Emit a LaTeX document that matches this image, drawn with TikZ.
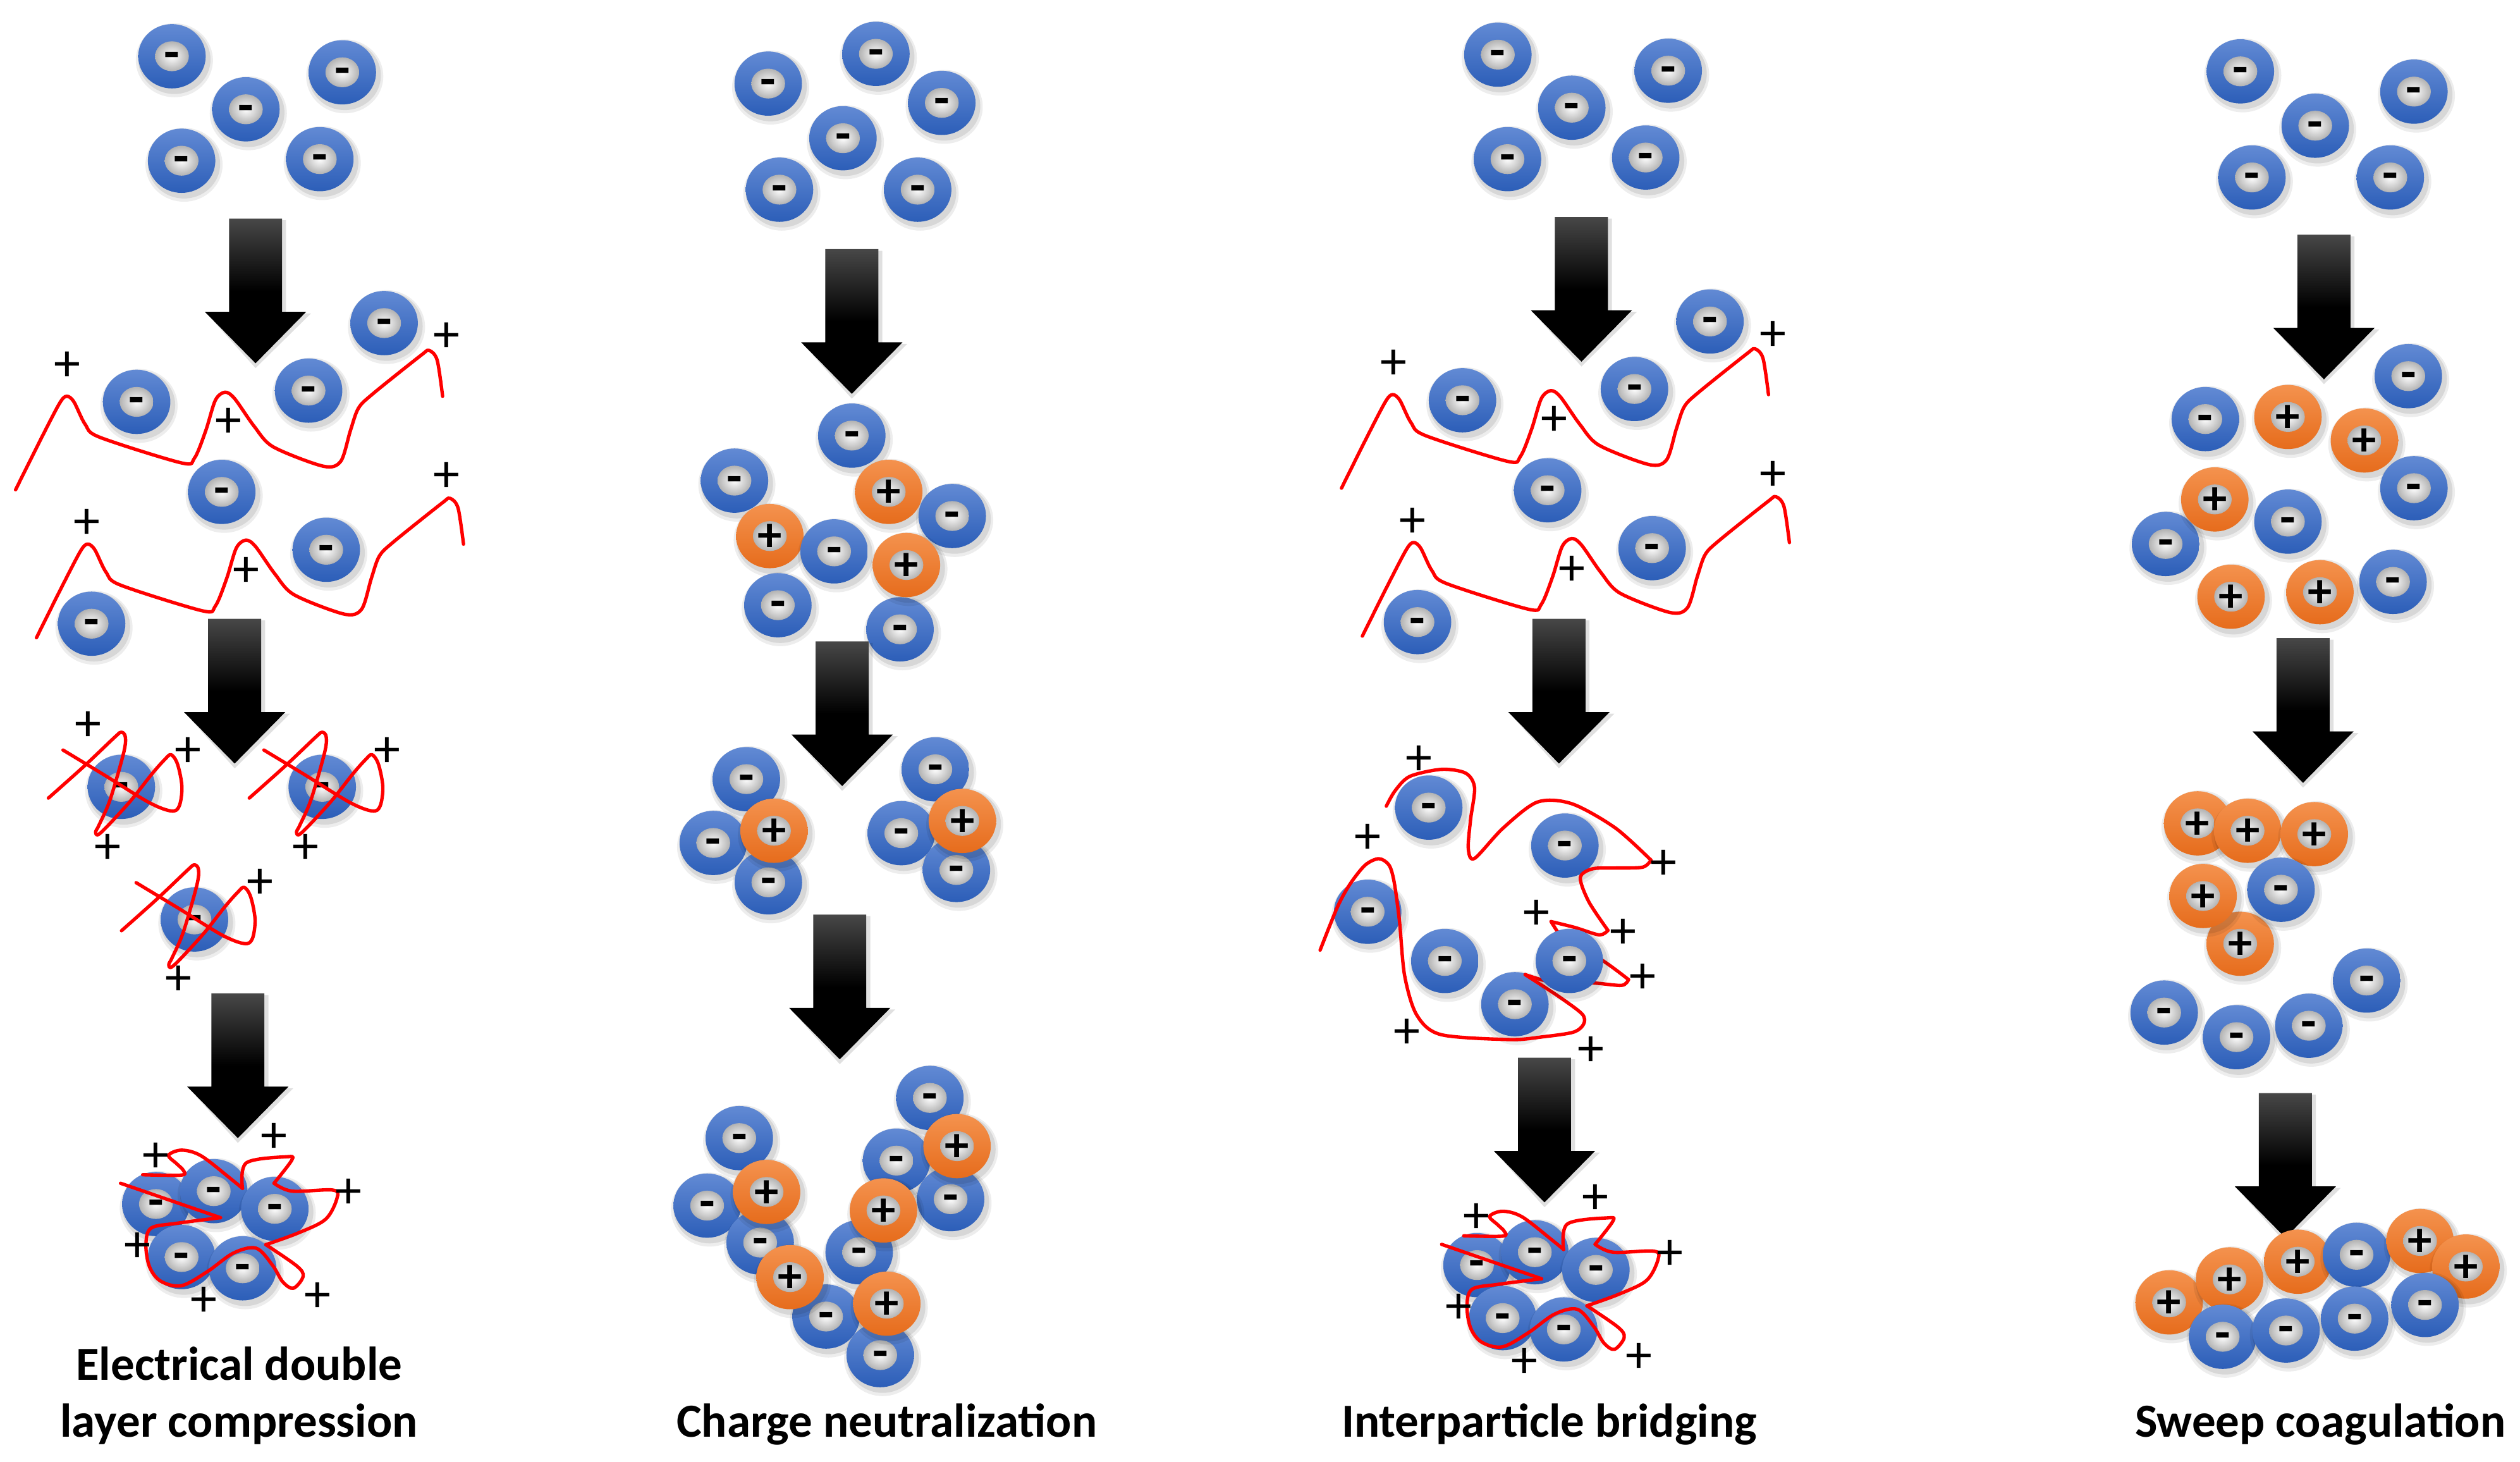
\documentclass[tikz,border=0pt]{standalone}
\usepackage{fontspec}
\setmainfont{Carlito}
\definecolor{pbT}{RGB}{98,138,212}
\definecolor{pbB}{RGB}{44,94,184}
\definecolor{poT}{RGB}{244,146,78}
\definecolor{poB}{RGB}{230,108,28}
\definecolor{curveRed}{RGB}{255,0,0}
\newcounter{nn}
\tikzset{
 x=0.1mm, y=-0.1mm,
 redl/.style={draw=curveRed, line width=0.6pt, line join=round, line cap=round},
 sgnm/.style={inner sep=0, anchor=base, font=\bfseries\fontsize{9}{9}\selectfont},
 sgnp/.style={inner sep=0, anchor=base, font=\bfseries\fontsize{8.6}{9}\selectfont},
 plusmark/.style={inner sep=0, anchor=base, font=\fontsize{9.4}{9}\selectfont},
 lbl/.style={inner sep=0, anchor=base, align=center, font=\bfseries\fontsize{8.4}{10.1}\selectfont},
}
\newcommand\pshadow[2]{%
 \fill[black,opacity=.07] (#1+1.5,#2+2.5) ellipse (24 and 23);
 \fill[black,opacity=.09] (#1+1.5,#2+2) ellipse (22.5 and 21.5);}
\newcommand\pbl[2]{\pshadow{#1}{#2}%
 \shade[top color=pbT,bottom color=pbB] (#1,#2) ellipse (21 and 20);
 \shade[inner color=white,outer color=black!30] (#1,#2) ellipse (10.5 and 9.3);
 \stepcounter{nn}\node[sgnm] (n\arabic{nn}) at (#1,#2+8) {-};}
\newcommand\por[2]{\pshadow{#1}{#2}%
 \shade[top color=poT,bottom color=poB] (#1,#2) ellipse (21 and 20);
 \shade[inner color=white,outer color=black!30] (#1,#2) ellipse (10.5 and 9.3);
 \stepcounter{nn}\node[sgnp] (n\arabic{nn}) at (#1,#2+9.5) {+};}
\newcommand\pls[2]{\stepcounter{nn}\node[plusmark] (n\arabic{nn}) at (#1,#2+10) {+};}
\newcommand\barrow[2]{%
 \fill[black,opacity=.12] (#1-16.5+2,#2+1) -- (#1+16.5+2.5,#2+1) -- (#1+16.5+2.5,#2+58+1) -- (#1+31.5+3,#2+58+1) -- (#1,#2+90+3) -- (#1-31.5+1,#2+58+1) -- (#1-16.5+2,#2+58+1) -- cycle;
 \shade[top color=black!72,bottom color=black,middle color=black] (#1-16.5,#2) -- (#1+16.5,#2) -- (#1+16.5,#2+58) -- (#1+31.5,#2+58) -- (#1,#2+90) -- (#1-31.5,#2+58) -- (#1-16.5,#2+58) -- cycle;}
\newcommand\wavy[2]{\begin{scope}[shift={(#1,#2)}]
 \draw[redl] plot[smooth,tension=.5] coordinates {(9.7,304.7) (25,274) (37,251) (41.5,246.5) (46,250) (53,264) (62,272) (113,288) (121,285) (128,268) (134,249) (140,244) (146,248) (158,265) (170,278) (201,290) (212,287) (218,268) (223,254) (232,245) (262,221) (267,218) (272,224) (275.4,246.5)};
 \end{scope}}
\newcommand\knot[2]{\begin{scope}[shift={(#1,#2)}]
 \draw[redl] plot[smooth,tension=.55] coordinates {(-45.4,7) (-23,-13) (-4,-31) (0,-34) (2.5,-31) (1.4,-21) (-7,8) (-14,24) (-16,28) (-13,28.7) (5,9.6) (19,-8) (27,-17) (31,-20) (35,-14) (37.7,0) (36,12) (31,15) (17,9.6) (-10,-7) (-36.3,-22.9)};
 \end{scope}}
\newcommand\levelsAB{%
 \pbl{107}{35}\pbl{213}{45}\pbl{153}{68}\pbl{113}{100}\pbl{199}{99}
 \barrow{159}{136}
 \pbl{239}{201}\pbl{85}{250}\pbl{192}{243}\pbl{138}{306}\pbl{203}{342}\pbl{57}{388}
 \wavy{0}{0}\wavy{13}{92}
 \pls{42}{227}\pls{142}{262}\pls{278}{209}\pls{54}{325}\pls{153}{355}\pls{278}{296}}
\newcommand\clusterD{%
 \pbl{97}{749}\pbl{133}{741}\pbl{171}{752}\pbl{113}{782}\pbl{151}{789}
 \draw[redl] (75,736.1) -- (137.2,757.5);
 \draw[redl] plot[smooth,tension=.55] coordinates {(137.2,757.5) (110,761) (94,764) (90.8,774.3) (93,788) (100,797) (113,799.8) (129.1,791) (145.3,779.5) (159.4,776.5) (169.5,787) (176,797.5) (182.6,801.4) (188.6,794) (184.6,787.5) (165.4,774.3)};
 \draw[redl] plot[smooth,tension=.55] coordinates {(165.4,774.3) (185.6,767) (202.7,758.4) (209.8,745) (206.8,740.3) (181.6,741) (170.5,736.1)};
 \draw[redl] plot[smooth,tension=.55] coordinates {(170.5,736.1) (181.6,721.6) (178.5,719.6) (153.3,723.4) (150.9,739.3)};
 \draw[redl] plot[smooth,tension=.55] coordinates {(150.9,739.3) (143.2,733) (125.1,719) (113,715.5) (104.9,718.7) (110,724) (114,728) (113,731) (88.8,730.8)};
 \pls{96.8}{719}\pls{170.5}{707}\pls{217}{741.6}\pls{85.7}{775}\pls{126.7}{809}\pls{197.7}{806}}
\begin{document}
\begin{tikzpicture}
\fill[white] (0,0) rectangle (1568,909.5);
\useasboundingbox (0,0) rectangle (1568,909.5);
% ---------- column 1 ----------
\levelsAB
\barrow{146}{385}
\pbl{75.5}{489.5}\pbl{200.5}{489.5}\pbl{121}{572}
\knot{75.5}{489.5}\knot{200.5}{489.5}\knot{121}{572}
\pls{55}{451}\pls{117}{467}\pls{67}{527}\pls{241}{467}\pls{190}{527}\pls{162}{549}\pls{111}{609}
\barrow{148}{618}
\clusterD
\node[lbl] (t1) at (148.8,894) {Electrical double\\layer compression};
% ---------- column 2 ----------
\pbl{478}{52}\pbl{545}{33.5}\pbl{586}{64}\pbl{524.5}{86}\pbl{485}{118}\pbl{571}{118}
\barrow{530}{155}
\pbl{530}{271}\pbl{457}{299}\por{553}{306}\pbl{592.5}{321}\por{479}{333.5}\pbl{519}{343}\pbl{484}{376.5}\pbl{560}{391.5}\por{564}{351.5}
\barrow{524}{399}
\pbl{464.4}{484.7}\pbl{443.8}{524.4}\pbl{478.1}{548.9}\por{481.6}{516.8}
\pbl{582}{478.6}\pbl{560.8}{518.3}\pbl{595.1}{541.2}\por{598.8}{510.7}
\barrow{522.5}{569}
\pbl{460}{708}\pbl{440}{750}\pbl{473}{773}\pbl{514}{819}\pbl{534.6}{779}\pbl{557.8}{722}\pbl{578.6}{683}\pbl{591.5}{746}\pbl{547.7}{843}
\por{477}{741.5}\por{491.6}{794.5}\por{549.7}{753}\por{595.5}{713}\por{551.8}{811}
\node[lbl] (t2) at (551.8,894) {Charge neutralization};
% ---------- column 3 ----------
\begin{scope}[shift={(825,-1)}]
\levelsAB
\end{scope}
\barrow{970}{385}
\pbl{889}{502.4}\pbl{973.7}{526}\pbl{851}{567.2}\pbl{899}{597.8}\pbl{942.6}{624.7}
\draw[redl] plot[smooth,tension=.5] coordinates {(862.6,501.5) (868,492) (877.2,483) (897,478.6) (912,481) (917.5,490) (915,510) (913.6,528) (917.5,534) (935.1,515.3) (956.5,499) (978,500) (1005,515) (1027.3,535.1)};
\draw[redl] plot[smooth,tension=.5] coordinates {(1027.3,535.1) (1022,539.5) (1005,540) (990.8,540.5) (983.3,546) (988.6,561) (1000.5,578.8)};
\draw[redl] plot[smooth,tension=.5] coordinates {(1000.5,578.8) (995.1,581.6) (980,577) (965.1,573.3)};
\draw[redl] plot[smooth,tension=.5] coordinates {(965.1,573.3) (978,591) (995.1,596.3) (1013.3,609.4)};
\draw[redl] plot[smooth,tension=.5] coordinates {(1013.3,609.4) (1009,613) (990.8,611.5) (969.4,612) (949,606.3)};
\draw[redl] plot[smooth,tension=.5] coordinates {(949,606.3) (970,620) (984.4,630.8) (985.4,637) (979,642.1) (960,645) (939.4,646.7) (896.5,643.6) (881.5,631.4) (874,607) (870.8,573.3) (867.5,548.9) (864.3,538.2) (857.9,534.2) (849.4,538.2) (840,550) (832.2,564.2) (821.4,591.1)};
\pbl{976.5}{597.8}
\pls{883}{472}\pls{851}{521}\pls{1035}{537}\pls{956}{568}\pls{1010}{580}\pls{1022}{608}\pls{875.5}{642}\pls{990}{653}
\barrow{961}{658}
\begin{scope}[shift={(822,38)}]
\clusterD
\end{scope}
\node[lbl] (t3) at (964,894) {Interparticle bridging};
% ---------- column 4 ----------
\pbl{1394}{44.4}\pbl{1502}{57}\pbl{1440.6}{78.2}\pbl{1401.2}{110.4}\pbl{1487.3}{110.4}
\barrow{1446}{146}
\pbl{1498.5}{234}\pbl{1372.2}{260.7}\por{1423.6}{259.4}\por{1471.2}{274}\pbl{1502}{303.7}
\pbl{1347.5}{338.4}\por{1378.1}{310.7}\pbl{1423.6}{324.5}\por{1388.2}{371.2}\por{1443.5}{368.4}\pbl{1489}{362}
\barrow{1433}{397}
\por{1367.4}{512.2}\por{1398.5}{516.8}\por{1440}{518.9}\por{1393.9}{587.1}\por{1370.8}{557.4}\pbl{1419.3}{553.5}
\pbl{1346.6}{629.9}\pbl{1391.6}{645.2}\pbl{1436.6}{638.1}\pbl{1472.6}{610}
\barrow{1422}{680}
\por{1349.7}{810.2}\por{1387.3}{795.9}\por{1429.7}{784.9}\pbl{1466.3}{780.6}\por{1505.8}{772}\por{1534.3}{787.9}
\pbl{1383}{831.6}\pbl{1422.4}{827.7}\pbl{1465.1}{820.3}\pbl{1508.9}{811.8}
\node[lbl] (t4) at (1443.8,894) {Sweep coagulation};
\end{tikzpicture}
\end{document}
